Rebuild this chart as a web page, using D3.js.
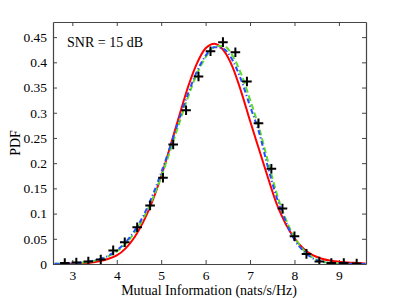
<!DOCTYPE html>
<html>
<head>
<meta charset="utf-8">
<script src="https://cdn.jsdelivr.net/npm/d3@7"></script>
<style>
  body { margin: 0; background: #fff; }
  svg { display: block; }
  text { font-family: "Liberation Serif", "Times New Roman", serif; fill: #000; }
</style>
</head>
<body>
<svg id="chart" width="403" height="298"></svg>
<script>
// grid for the three curves (nats/s/Hz)
const gridX = [2.6, 2.8, 3.0, 3.2, 3.4, 3.6, 3.8, 4.0, 4.2, 4.4, 4.6, 4.8, 5.0, 5.2, 5.4, 5.6, 5.8, 6.0,
               6.2, 6.4, 6.6, 6.8, 7.0, 7.2, 7.4, 7.6, 7.8, 8.0, 8.2, 8.4, 8.6, 8.8, 9.0, 9.2, 9.4, 9.6]

// red solid curve
const redPdf = [0.0001, 0.0002, 0.0006, 0.0012, 0.0027, 0.0054, 0.010, 0.017, 0.031, 0.053, 0.084, 0.124,
                0.174, 0.232, 0.292, 0.350, 0.397, 0.428, 0.437, 0.424, 0.392, 0.342, 0.284, 0.228,
                0.172, 0.119, 0.080, 0.051, 0.031, 0.018, 0.011, 0.0068, 0.0046, 0.003, 0.002, 0.001]

// green dashed curve
const greenPdf = [0.0003, 0.0006, 0.0012, 0.0025, 0.0047, 0.0086, 0.015, 0.025, 0.040, 0.062, 0.091, 0.128,
                  0.173, 0.224, 0.278, 0.330, 0.376, 0.410, 0.431, 0.433, 0.414, 0.377, 0.326, 0.271,
                  0.205, 0.140, 0.090, 0.053, 0.028, 0.013, 0.0055, 0.0022, 0.001, 0.0004, 0.0002, 0.0001]

// blue dash-dot curve
const bluePdf = [0.0003, 0.0007, 0.0014, 0.0028, 0.0053, 0.0095, 0.016, 0.027, 0.043, 0.066, 0.096, 0.135,
                 0.181, 0.232, 0.286, 0.337, 0.381, 0.413, 0.430, 0.427, 0.405, 0.365, 0.313, 0.262,
                 0.193, 0.132, 0.085, 0.048, 0.026, 0.012, 0.005, 0.002, 0.001, 0.0004, 0.0002, 0.0001]

// black "+" samples
const simX = [2.83, 3.09, 3.36, 3.64, 3.92, 4.18, 4.46, 4.75, 5.04, 5.27, 5.56, 5.84, 6.11,
              6.39, 6.67, 6.93, 7.19, 7.48, 7.73, 8.00, 8.27, 8.56, 8.83, 9.11, 9.40]
const simPdf = [0.002, 0.003, 0.005, 0.009, 0.027, 0.043, 0.073, 0.116, 0.171, 0.237, 0.305, 0.372, 0.422,
                0.440, 0.420, 0.362, 0.279, 0.189, 0.110, 0.055, 0.020, 0.005, 0.002, 0.002, 0.001]

const xTicks = [3, 4, 5, 6, 7, 8, 9]
const yTicks = [0, 0.05, 0.1, 0.15, 0.2, 0.25, 0.3, 0.35, 0.4, 0.45]

const width = 403, height = 298
const margin = {top: 22, right: 37, bottom: 34, left: 53}
const fontSize = "13.5px"

const svg = d3.select("#chart")

const x = d3.scaleLinear().domain([2.565, 9.61]).range([margin.left, width - margin.right])
const y = d3.scaleLinear().domain([0, 0.48]).range([height - margin.bottom, margin.top])

svg.append("defs").append("clipPath").attr("id", "plotclip")
    .append("rect")
    .attr("x", margin.left).attr("y", margin.top)
    .attr("width", width - margin.left - margin.right)
    .attr("height", height - margin.top - margin.bottom)

const tickLen = 4

// bottom + top axes (ticks point inward)
svg.append("g").attr("transform", `translate(0,${y(0)})`)
    .call(d3.axisBottom(x).tickValues(xTicks).tickSizeInner(-tickLen).tickSizeOuter(0).tickPadding(6)
        .tickFormat(d3.format("d")))
svg.append("g").attr("transform", `translate(0,${margin.top})`)
    .call(d3.axisTop(x).tickValues(xTicks).tickSizeInner(-tickLen).tickSizeOuter(0).tickFormat(""))

// left + right axes
svg.append("g").attr("transform", `translate(${margin.left},0)`)
    .call(d3.axisLeft(y).tickValues(yTicks).tickSizeInner(-tickLen).tickSizeOuter(0).tickPadding(6)
        .tickFormat(d => String(+d.toFixed(2))))
svg.append("g").attr("transform", `translate(${width - margin.right},0)`)
    .call(d3.axisRight(y).tickValues(yTicks).tickSizeInner(-tickLen).tickSizeOuter(0).tickFormat(""))

svg.selectAll(".domain").attr("stroke", "#444").attr("stroke-width", 1.2)
svg.selectAll(".tick line").attr("stroke", "#444")
svg.selectAll(".tick text")
    .style("font-family", "'Liberation Serif', serif")
    .style("font-size", fontSize)

const plot = svg.append("g").attr("clip-path", "url(#plotclip)")

const line = d3.line()
    .x(d => x(d[0]))
    .y(d => y(d[1]))
    .curve(d3.curveMonotoneX)

const series = [
    {vals: redPdf, color: "#ff0000", dash: null},
    {vals: greenPdf, color: "#5fdc28", dash: "6,3"},
    {vals: bluePdf, color: "#2450ff", dash: "5,2.5,1.2,2.5"}
]

series.forEach(s => {
    plot.append("path")
        .datum(gridX.map((v, i) => [v, s.vals[i]]))
        .attr("fill", "none")
        .attr("stroke", s.color)
        .attr("stroke-width", 2)
        .attr("stroke-dasharray", s.dash)
        .attr("d", line)
})

// markers
plot.selectAll(".mk")
    .data(simX.map((v, i) => [v, simPdf[i]]))
    .join("path")
    .attr("class", "mk")
    .attr("transform", d => `translate(${x(d[0])},${y(d[1])})`)
    .attr("d", "M-4.8,0H4.8M0,-4.8V4.8")
    .attr("stroke", "#000")
    .attr("stroke-width", 2)

// labels
svg.append("text")
    .attr("x", 209)
    .attr("y", 295)
    .attr("text-anchor", "middle")
    .style("font-size", "14px")
    .text("Mutual Information (nats/s/Hz)")

svg.append("text")
    .attr("transform", `translate(20,${(margin.top + height - margin.bottom) / 2}) rotate(-90)`)
    .attr("text-anchor", "middle")
    .style("font-size", "14px")
    .text("PDF")

svg.append("text")
    .attr("x", 67)
    .attr("y", 47)
    .style("font-size", "14px")
    .text("SNR = 15 dB")
</script>
</body>
</html>
